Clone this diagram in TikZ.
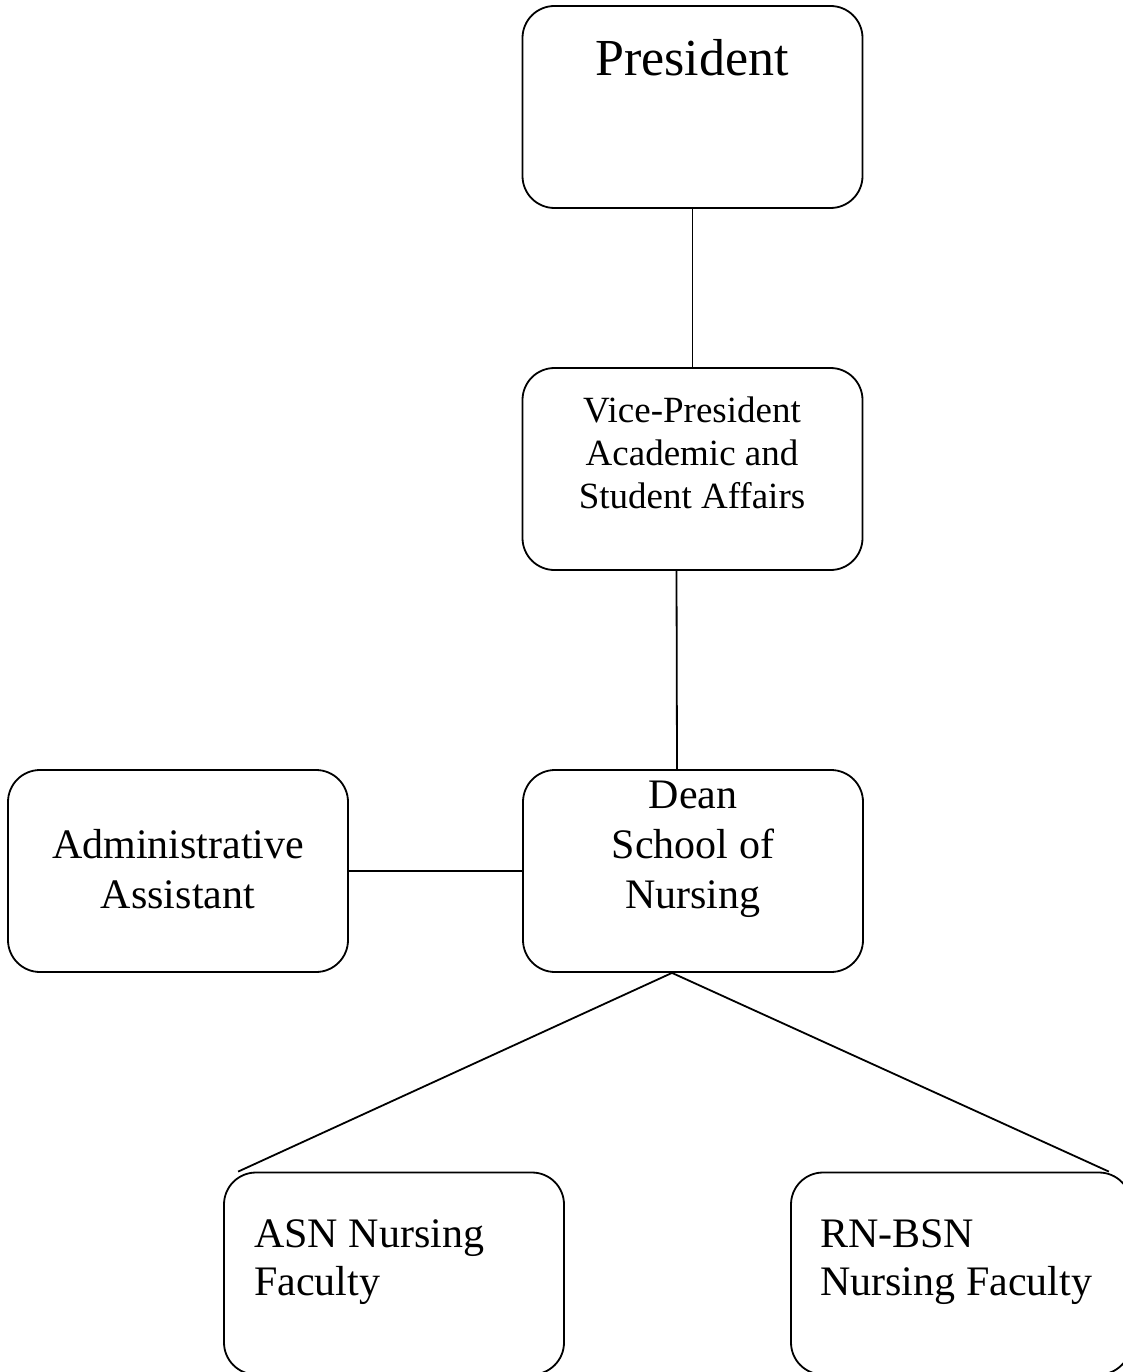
\documentclass[tikz,border=0pt]{standalone}
\usepackage{fontspec}
\setmainfont{Liberation Serif}
\begin{document}
\begin{tikzpicture}[x=1pt,y=-1pt,
  orgbox/.style={draw, line width=1.8pt, rounded corners=32pt, minimum width=340pt, minimum height=202pt, inner sep=0pt},
  conn/.style={line width=1.8pt},
  lbl/.style={inner sep=0pt, align=center, anchor=base},
  lbll/.style={inner sep=0pt, align=left, anchor=base west}]
\useasboundingbox (0,0) rectangle (1123,1372);
\node[orgbox] (pres) at (692.5,107) {};
\node[orgbox] (vp) at (692.5,469) {};
\node[orgbox] (admin) at (178,871) {};
\node[orgbox] (dean) at (693,871) {};
\node[orgbox] (asn) at (394,1273.5) {};
\node[orgbox] (rn) at (961,1273.5) {};
\node[lbl, font=\fontsize{52}{60}\selectfont] (prest) at (692,76) {President};
\node[lbl, font=\fontsize{37}{43}\selectfont] (vpt) at (692,508) {Vice-President\\Academic and\\Student Affairs};
\node[lbl, font=\fontsize{42}{50}\selectfont] (deant) at (693,908) {Dean\\School of\\Nursing};
\node[lbl, font=\fontsize{42}{50}\selectfont] (admint) at (178,908) {Administrative\\Assistant};
\node[lbll, font=\fontsize{42}{48}\selectfont] (asnt) at (254,1295) {ASN Nursing\\Faculty};
\node[lbll, font=\fontsize{42}{48}\selectfont] (rnt) at (820,1295) {RN-BSN\\Nursing Faculty};
\draw[conn] (pres.south) -- (vp.north);
\draw[conn] ([xshift=-16pt]vp.south) -- ([xshift=-16pt]dean.north);
\draw[conn] (admin.east) -- (dean.west);
\coordinate (split) at ([xshift=-21pt]dean.south);
\coordinate (asnend) at ([xshift=15pt]asn.north west);
\coordinate (rnend) at ([xshift=-23pt]rn.north east);
\draw[conn] (split) -- (asnend);
\draw[conn] (split) -- (rnend);
\end{tikzpicture}
\end{document}
